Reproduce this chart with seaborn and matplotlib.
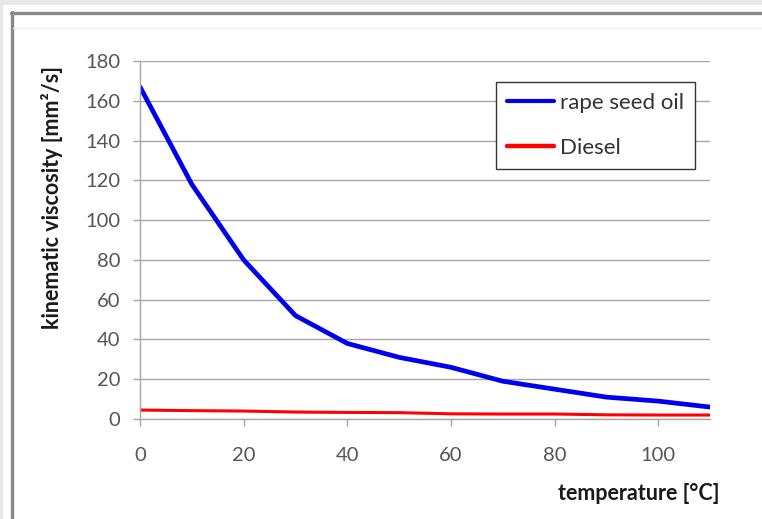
import matplotlib
matplotlib.use("Agg")
import matplotlib.pyplot as plt
import seaborn as sns
import pandas as pd
from matplotlib.patches import Rectangle
from matplotlib.lines import Line2D

temperature = [0, 10, 20, 30, 40, 50, 60, 70, 80, 90, 100, 110]
rape_seed_oil = [167, 118, 80, 52, 38, 31, 26, 19, 15, 11, 9, 6]
diesel = [4.5, 4.2, 4.0, 3.5, 3.3, 3.2, 2.6, 2.5, 2.5, 2.1, 2.0, 2.0]
series_names = ["rape seed oil", "Diesel"]
y_ticks = [0, 20, 40, 60, 80, 100, 120, 140, 160, 180]
x_ticks = [0, 20, 40, 60, 80, 100]

df = pd.concat([
    pd.DataFrame({"temperature": temperature, "value": rape_seed_oil, "series": series_names[0]}),
    pd.DataFrame({"temperature": temperature, "value": diesel, "series": series_names[1]}),
])

sns.set_theme(style="white")
plt.rcParams["font.family"] = ["Lato", "DejaVu Sans"]

fig = plt.figure(figsize=(7.62, 5.19), dpi=100)
fig.patch.set_facecolor("white")
ax = fig.add_axes([140/762, 1 - 419/519, 570/762, 358/519])

# screenshot frame decoration
fig.patches.append(Rectangle((0, 1 - 5/519), 1, 5/519, transform=fig.transFigure,
                             facecolor="#e8e8e8", edgecolor="none", zorder=0))
fig.patches.append(Rectangle((0, 0), 3/762, 1, transform=fig.transFigure,
                             facecolor="#e8e8e8", edgecolor="none", zorder=0))
fig.lines.append(Line2D([11/762, 1], [1 - 13/519, 1 - 13/519], transform=fig.transFigure,
                        color="#8a8a8a", linewidth=2.4))
fig.lines.append(Line2D([11.5/762, 11.5/762], [0, 1 - 12/519], transform=fig.transFigure,
                        color="#8a8a8a", linewidth=2.4))
fig.lines.append(Line2D([13/762, 1], [1 - 28/519, 1 - 28/519], transform=fig.transFigure,
                        color="#eeeeee", linewidth=1))

palette = {"rape seed oil": "#0000ee", "Diesel": "#ff0000"}
sns.lineplot(data=df, x="temperature", y="value", hue="series", palette=palette,
             ax=ax, legend=False, sort=False)
ax.lines[0].set_linewidth(3.4)
ax.lines[1].set_linewidth(2.2)

ax.set_xlim(0, 110)
ax.set_ylim(0, 180)
ax.set_xticks(x_ticks)
ax.set_yticks(y_ticks)
ax.grid(axis="y", color="#a6a6a6", linewidth=1)
ax.grid(axis="x", visible=False)
for s in ["top", "right"]:
    ax.spines[s].set_visible(False)
for s in ["left", "bottom"]:
    ax.spines[s].set_color("#a6a6a6")
    ax.spines[s].set_linewidth(1)
ax.tick_params(axis="y", which="major", left=True, length=5, width=1, color="#a6a6a6",
               labelsize=14.5, labelcolor="#555555", pad=9)
ax.tick_params(axis="x", which="major", bottom=True, length=5, width=1, color="#a6a6a6",
               labelsize=14.5, labelcolor="#555555", pad=15)
ax.set_axisbelow(True)

ax.set_xlabel("")
ax.set_ylabel("")
fig.text(720/762, 1 - 494/519, "temperature [°C]", ha="right", va="center",
         fontsize=15.5, fontweight="bold", color="#1a1a1a")
fig.text(52/762, 1 - 198/519, "kinematic viscosity [mm²/s]", ha="center", va="center",
         rotation=90, fontsize=15.5, fontweight="bold", color="#1a1a1a")

handles = [Line2D([], [], color=palette[n], linewidth=3.0 if i == 0 else 3.2)
           for i, n in enumerate(series_names)]
leg = ax.legend(handles, series_names, loc="upper left",
                bbox_to_anchor=((496-140)/570, (419-82)/358),
                frameon=True, fancybox=False, fontsize=16, handlelength=2.1,
                handletextpad=0.27, labelspacing=1.1, borderpad=0.5, borderaxespad=0,
                labelcolor="#333333")
leg.get_frame().set_edgecolor("#333333")
leg.get_frame().set_linewidth(1)
leg.get_frame().set_facecolor("white")
leg.get_frame().set_alpha(1)

fig.savefig("out.png", dpi=100)
